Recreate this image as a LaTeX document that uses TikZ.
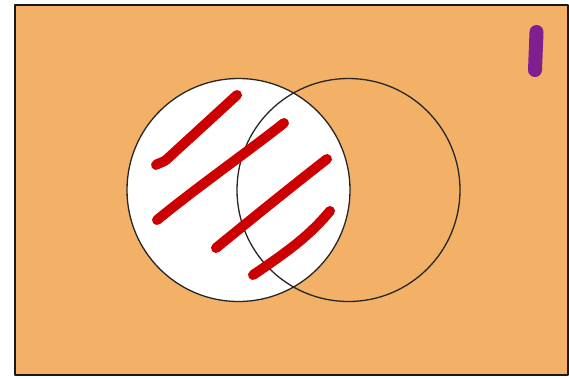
\documentclass[tikz,border=0pt]{standalone}
\usetikzlibrary{positioning}
\definecolor{universe}{HTML}{F3B067}
\definecolor{hatch}{HTML}{CC0000}
\definecolor{mark}{HTML}{80208E}
\begin{document}
\begin{tikzpicture}[x=1pt,y=-1pt,line join=round]
  \tikzstyle{setline}=[draw=black!85, line width=1.3pt]
  \tikzstyle{stroke}=[draw=hatch, line width=10pt, line cap=round]
  \useasboundingbox (0,0) rectangle (569,378);

  % universe
  \draw[fill=universe, draw=black!90, line width=2.2pt] (15,5) rectangle (568,375);

  % set A shaded white, set B outline
  \fill[white] (238.5,190) circle (111.5);
  \draw[setline] (238.5,190) circle (111.5);
  \draw[setline] (348.5,190) circle (111.5);

  % red hatching
  \draw[stroke] (156,165) .. controls (158,163) and (162,163) .. (166,160) -- (237,95);
  \draw[stroke] (157,220) .. controls (200,185) and (250,150) .. (284,123);
  \draw[stroke] (216,248) .. controls (260,212) and (300,180) .. (327,159);
  \draw[stroke] (253,275) .. controls (290,250) and (310,235) .. (330,211);

  % purple mark
  \draw[draw=mark, line width=14pt, line cap=round] (536.5,32) -- (535,70);
\end{tikzpicture}
\end{document}
